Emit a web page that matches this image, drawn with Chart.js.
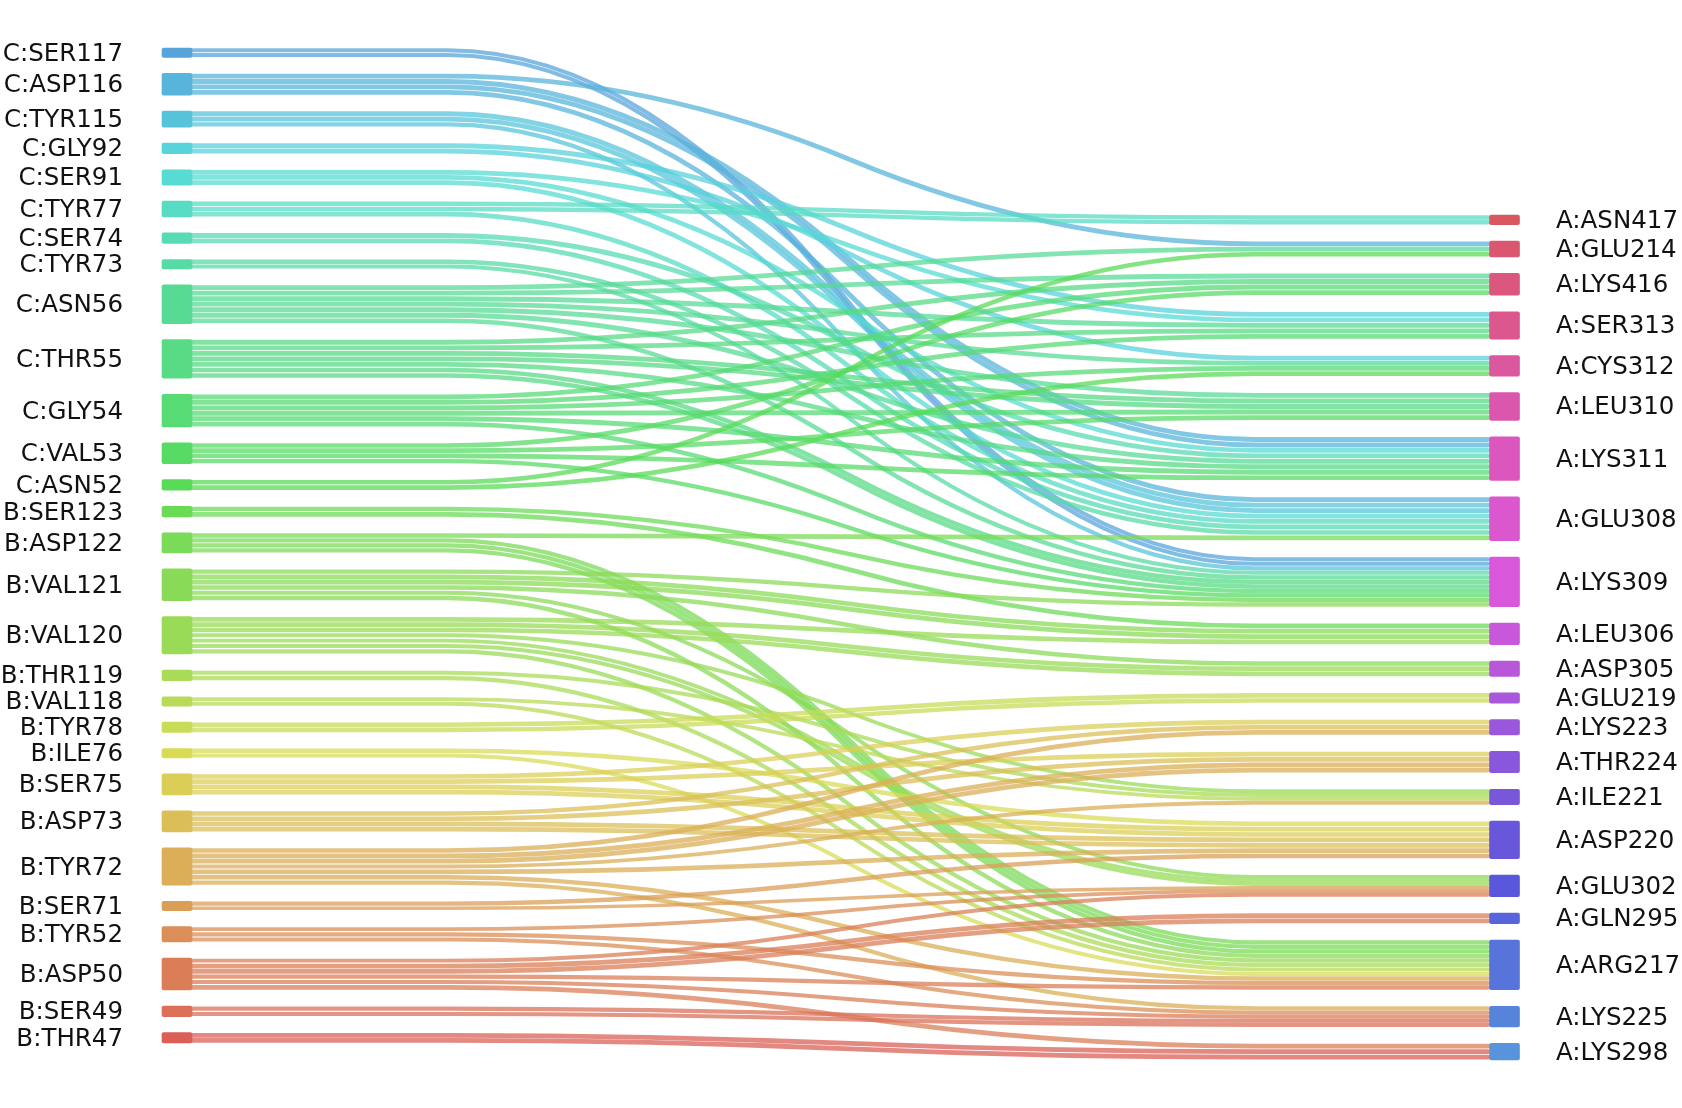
<!DOCTYPE html>
<html>
<head>
<meta charset="utf-8">
<script src="https://cdn.jsdelivr.net/npm/chart.js@4.4.0/dist/chart.umd.min.js"></script>
<style>
html,body{margin:0;padding:0;background:#ffffff;}
#c{display:block;}
</style>
</head>
<body>
<canvas id="c" width="1682" height="1108" style="width:1682px;height:1108px"></canvas>
<script>
// ---------------- data ----------------
const leftNodes = ['C:SER117','C:ASP116','C:TYR115','C:GLY92','C:SER91','C:TYR77','C:SER74','C:TYR73','C:ASN56','C:THR55','C:GLY54','C:VAL53','C:ASN52','B:SER123','B:ASP122','B:VAL121','B:VAL120','B:THR119','B:VAL118','B:TYR78','B:ILE76','B:SER75','B:ASP73','B:TYR72','B:SER71','B:TYR52','B:ASP50','B:SER49','B:THR47'];
const leftValues = [1.75,4.05,2.98,1.99,2.87,2.93,1.99,1.75,7.22,7.22,6.10,3.86,1.99,1.99,3.73,5.92,6.98,1.99,1.75,1.93,1.75,3.92,3.92,6.98,1.75,2.87,5.97,1.99,1.93];

const rightNodes = ['A:ASN417','A:GLU214','A:LYS416','A:SER313','A:CYS312','A:LEU310','A:LYS311','A:GLU308','A:LYS309','A:LEU306','A:ASP305','A:GLU219','A:LYS223','A:THR224','A:ILE221','A:ASP220','A:GLU302','A:GLN295','A:ARG217','A:LYS225','A:LYS298'];
const rightValues = [1.80,2.93,4.10,5.11,3.86,5.17,8.16,8.16,9.28,3.99,2.87,1.93,2.87,3.99,2.87,7.04,3.99,1.99,9.28,3.86,3.11];

// links: one strand per unit of linkValues
const linkFrom = [
 'C:SER117',
 'C:ASP116','C:ASP116','C:ASP116',
 'C:TYR115','C:TYR115',
 'C:GLY92','C:GLY92',
 'C:SER91','C:SER91','C:SER91',
 'C:TYR77','C:TYR77',
 'C:SER74','C:SER74',
 'C:TYR73','C:TYR73',
 'C:ASN56','C:ASN56','C:ASN56','C:ASN56','C:ASN56','C:ASN56','C:ASN56',
 'C:THR55','C:THR55','C:THR55','C:THR55','C:THR55',
 'C:GLY54','C:GLY54','C:GLY54','C:GLY54','C:GLY54','C:GLY54',
 'C:VAL53','C:VAL53','C:VAL53','C:VAL53',
 'C:ASN52','C:ASN52',
 'B:SER123','B:SER123',
 'B:ASP122','B:ASP122',
 'B:VAL121','B:VAL121','B:VAL121','B:VAL121','B:VAL121',
 'B:VAL120','B:VAL120','B:VAL120','B:VAL120','B:VAL120',
 'B:THR119','B:THR119',
 'B:VAL118','B:VAL118',
 'B:TYR78',
 'B:ILE76','B:ILE76',
 'B:SER75','B:SER75','B:SER75',
 'B:ASP73','B:ASP73','B:ASP73',
 'B:TYR72','B:TYR72','B:TYR72','B:TYR72','B:TYR72','B:TYR72',
 'B:SER71','B:SER71',
 'B:TYR52','B:TYR52','B:TYR52',
 'B:ASP50','B:ASP50','B:ASP50','B:ASP50','B:ASP50',
 'B:SER49',
 'B:THR47'
];
const linkTo = [
 'A:LYS309',
 'A:GLU214','A:LYS311','A:GLU308',
 'A:GLU308','A:LYS309',
 'A:SER313','A:CYS312',
 'A:SER313','A:LYS311','A:GLU308',
 'A:ASN417','A:GLU308',
 'A:LYS311','A:GLU308',
 'A:GLU308','A:LYS309',
 'A:GLU214','A:LYS416','A:SER313','A:CYS312','A:LEU310','A:LYS311','A:LYS309',
 'A:LYS416','A:SER313','A:LEU310','A:LYS311','A:LYS309',
 'A:LYS416','A:SER313','A:CYS312','A:LEU310','A:LYS311','A:LYS309',
 'A:LYS416','A:LEU310','A:LYS311','A:LYS309',
 'A:GLU214','A:CYS312',
 'A:LYS309','A:LEU306',
 'A:GLU308','A:ARG217',
 'A:LYS309','A:LEU306','A:ASP305','A:GLU302','A:ARG217',
 'A:LEU306','A:ASP305','A:ILE221','A:GLU302','A:ARG217',
 'A:ILE221','A:ARG217',
 'A:ILE221','A:ARG217',
 'A:GLU219',
 'A:ASP220','A:ARG217',
 'A:LYS223','A:THR224','A:ASP220',
 'A:LYS223','A:THR224','A:ASP220',
 'A:LYS223','A:THR224','A:ILE221','A:ASP220','A:ARG217','A:LYS225',
 'A:ASP220','A:GLU302',
 'A:GLU302','A:ARG217','A:LYS225',
 'A:GLU302','A:GLN295','A:ARG217','A:LYS225','A:LYS298',
 'A:LYS225',
 'A:LYS298'
];
const linkValues = [
 2,
 1,2,1,
 2,1,
 1,1,
 1,1,1,
 2,1,
 1,1,
 1,1,
 1,1,1,1,1,1,1,
 1,1,2,1,2,
 1,1,1,1,1,1,
 1,1,1,1,
 1,1,
 1,1,
 1,3,
 1,2,1,1,1,
 1,2,1,2,1,
 1,1,
 1,1,
 2,
 1,1,
 1,1,2,
 1,1,2,
 1,2,1,1,1,1,
 1,1,
 1,1,1,
 1,2,1,1,1,
 2,
 2
];

// ---------------- layout / style constants ----------------
const PAD_L = 2.99;       // gap between left nodes (value units)
const PAD_R = 3.07;       // gap between right nodes (value units)
const BOTTOM_SLACK = 3.17; // free space under the left column
const NODE_W = 30;
const TRANS_A = 0.197, TRANS_B = 0.82;  // where the S-bend of a strand starts/ends
const FONT = '24.5px "DejaVu Sans", sans-serif';

// seaborn-like hls palette (50 hues, l=.6, s=.65)
function hls(h, l, s) {
  const m2 = l <= 0.5 ? l * (1 + s) : l + s - l * s;
  const m1 = 2 * l - m2;
  function v(hue) {
    hue = ((hue % 1) + 1) % 1;
    if (hue < 1/6) return m1 + (m2 - m1) * hue * 6;
    if (hue < 0.5) return m2;
    if (hue < 2/3) return m1 + (m2 - m1) * (2/3 - hue) * 6;
    return m1;
  }
  return [v(h + 1/3), v(h), v(h - 1/3)].map(c => Math.round(c * 255));
}
const nTotal = leftNodes.length + rightNodes.length;
function paletteColor(idx) { return hls(idx / nTotal + 0.01, 0.6, 0.65); }
const leftRGB = leftNodes.map((n, i) => paletteColor(leftNodes.length - 1 - i));
const rightRGB = rightNodes.map((n, j) => paletteColor(leftNodes.length + rightNodes.length - 1 - j));
const rgba = (c, a) => `rgba(${c[0]},${c[1]},${c[2]},${a})`;

// node positions in value units
const leftStart = [];
{ let y = 0; leftValues.forEach(v => { leftStart.push(y); y += v + PAD_L; }); }
const leftExtent = leftValues.reduce((a, b) => a + b, 0) + (leftValues.length - 1) * PAD_L;
const EXT = leftExtent + BOTTOM_SLACK;
const rightStart = new Array(rightValues.length);
{ let y = EXT; for (let j = rightValues.length - 1; j >= 0; j--) { y -= rightValues[j]; rightStart[j] = y; y -= PAD_R; } }

const nodeData = [];
const nodeColors = [];
leftNodes.forEach((n, i) => { nodeData.push({x: 0, y: [leftStart[i], leftStart[i] + leftValues[i]]}); nodeColors.push(rgba(leftRGB[i], 1)); });
rightNodes.forEach((n, j) => { nodeData.push({x: 1, y: [rightStart[j], rightStart[j] + rightValues[j]]}); nodeColors.push(rgba(rightRGB[j], 1)); });

// link bookkeeping
const links = linkFrom.map((f, k) => ({s: leftNodes.indexOf(f), t: rightNodes.indexOf(linkTo[k]), v: linkValues[k]}));
const outSum = leftNodes.map((n, i) => links.filter(l => l.s === i).reduce((a, l) => a + l.v, 0));
const inSum = rightNodes.map((n, j) => links.filter(l => l.t === j).reduce((a, l) => a + l.v, 0));

const sankeyPlugin = {
  id: 'sankeyLinks',
  beforeDatasetsDraw(chart) {
    const {ctx} = chart;
    const xs = chart.scales.x, ys = chart.scales.y;
    const x0 = xs.getPixelForValue(0) + NODE_W / 2;
    const x1 = xs.getPixelForValue(1) - NODE_W / 2 - 1.5;
    const xa = x0 + (x1 - x0) * TRANS_A, xb = x0 + (x1 - x0) * TRANS_B;
    const W = xb - xa;
    const srcOff = {}, tgtOff = {};
    leftNodes.forEach((n, i) => {
      let acc = 0;
      links.map((l, k) => ({l, k})).filter(o => o.l.s === i).sort((a, b) => a.l.t - b.l.t)
        .forEach(o => { srcOff[o.k] = acc; acc += o.l.v; });
    });
    rightNodes.forEach((n, j) => {
      let acc = 0;
      links.map((l, k) => ({l, k})).filter(o => o.l.t === j).sort((a, b) => a.l.s - b.l.s)
        .forEach(o => { tgtOff[o.k] = acc; acc += o.l.v; });
    });
    ctx.save();
    ctx.lineCap = 'round';
    ctx.lineJoin = 'round';
    links.forEach((l, k) => {
      const su = leftValues[l.s] / outSum[l.s];
      const tu = rightValues[l.t] / inSum[l.t];
      const sPx = Math.abs(ys.getPixelForValue(su) - ys.getPixelForValue(0));
      const tPx = Math.abs(ys.getPixelForValue(tu) - ys.getPixelForValue(0));
      ctx.lineWidth = Math.max(1.5, (sPx + tPx) / 2 - 0.6);
      ctx.strokeStyle = rgba(leftRGB[l.s], 0.74);
      for (let m = 0; m < l.v; m++) {
        const sc = ys.getPixelForValue(leftStart[l.s] + (srcOff[k] + m + 0.5) * su);
        const tc = ys.getPixelForValue(rightStart[l.t] + (tgtOff[k] + m + 0.5) * tu);
        const mid = (sc + tc) / 2;
        ctx.beginPath();
        ctx.moveTo(x0, sc);
        ctx.lineTo(xa, sc);
        ctx.quadraticCurveTo(xa + W / 4, sc, xa + W / 2, mid);
        ctx.quadraticCurveTo(xa + 3 * W / 4, tc, xb, tc);
        ctx.lineTo(x1, tc);
        ctx.stroke();
      }
    });
    ctx.restore();
  },
  afterDatasetsDraw(chart) {
    const {ctx} = chart;
    const xs = chart.scales.x, ys = chart.scales.y;
    ctx.save();
    ctx.font = FONT;
    ctx.fillStyle = '#111111';
    ctx.textBaseline = 'alphabetic';
    ctx.textAlign = 'right';
    const lx = xs.getPixelForValue(0) - NODE_W / 2 - 39;
    leftNodes.forEach((n, i) => {
      const cy = ys.getPixelForValue(leftStart[i] + leftValues[i] / 2);
      ctx.fillText(n, lx, cy + 8.0);
    });
    ctx.textAlign = 'left';
    const rx = xs.getPixelForValue(1) + NODE_W / 2 + 36.5;
    rightNodes.forEach((n, j) => {
      const cy = ys.getPixelForValue(rightStart[j] + rightValues[j] / 2);
      ctx.fillText(n, rx, cy + 8.0);
    });
    ctx.restore();
  }
};

new Chart(document.getElementById('c'), {
  type: 'bar',
  data: {
    datasets: [{
      data: nodeData,
      backgroundColor: nodeColors,
      borderWidth: 0,
      borderRadius: 2,
      borderSkipped: false,
      barThickness: NODE_W,
      clip: false
    }]
  },
  options: {
    responsive: false,
    animation: false,
    devicePixelRatio: 1,
    layout: {padding: {left: 177, right: 177.5, top: 48, bottom: 48}},
    scales: {
      x: {type: 'linear', min: 0, max: 1, offset: false, display: false},
      y: {type: 'linear', min: 0, max: EXT, reverse: true, display: false}
    },
    plugins: {legend: {display: false}, tooltip: {enabled: false}}
  },
  plugins: [sankeyPlugin]
});
</script>
</body>
</html>
